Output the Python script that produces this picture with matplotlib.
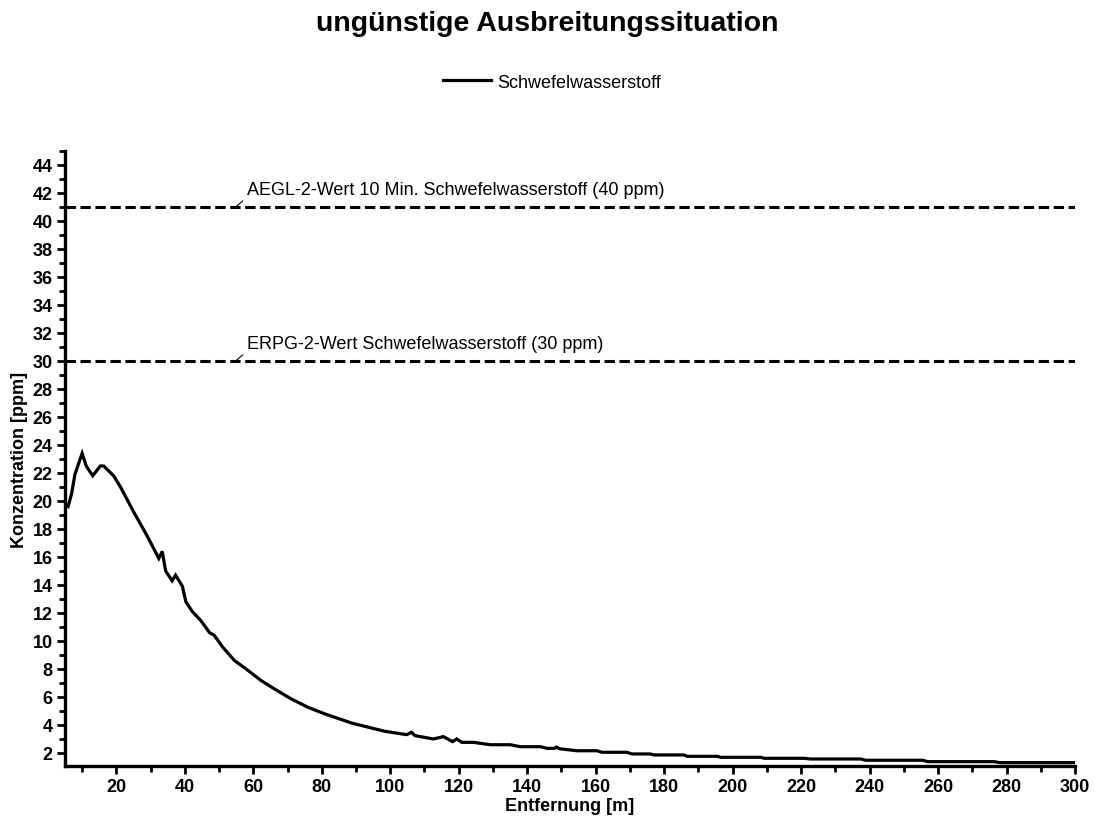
import matplotlib
matplotlib.use("Agg")
import matplotlib.pyplot as plt
from matplotlib.ticker import MultipleLocator

plt.rcParams['font.family'] = ['Liberation Sans', 'DejaVu Sans']

# Data
distance = [5.0, 5.9, 6.9, 7.9, 10.0, 11.2, 13.1, 15.3, 16.3, 19.2, 21.2, 25.1, 29.0,
            32.4, 33.4, 34.4, 36.3, 37.3, 39.3, 40.3, 42.2, 44.7, 47.2, 48.6, 51.1,
            54.5, 57.9, 62.3, 66.2, 71.1, 76.0, 80.9, 88.7, 93.6, 98.4, 103.4, 104.8,
            106.2, 107.2, 112.6, 115.5, 118.2, 119.4, 120.9, 124.3, 129.2, 135.0,
            138.0, 143.8, 145.8, 148.0, 148.5, 149.5, 154.5, 160.4, 161.8, 169.1, 170.6,
            176.0, 177.0, 185.8, 186.8, 195.5, 196.5, 208.2, 209.2, 220.9, 222.8,
            237.4, 238.9, 255.5, 257.0, 276.4, 278.0, 300.0]
concentration = [19.7, 19.6, 20.5, 21.9, 23.4, 22.5, 21.8, 22.5, 22.5, 21.8, 21.0, 19.2, 17.5,
                 15.9, 16.4, 15.0, 14.3, 14.7, 13.9, 12.8, 12.1, 11.45, 10.6, 10.4, 9.55,
                 8.6, 8.0, 7.17, 6.57, 5.86, 5.26, 4.79, 4.14, 3.84, 3.55, 3.36, 3.31,
                 3.48, 3.24, 3.0, 3.17, 2.81, 3.0, 2.76, 2.76, 2.59, 2.59,
                 2.45, 2.45, 2.33, 2.33, 2.42, 2.30, 2.16, 2.16, 2.05, 2.05, 1.93,
                 1.93, 1.86, 1.86, 1.76, 1.76, 1.69, 1.69, 1.62, 1.62, 1.57,
                 1.57, 1.48, 1.48, 1.38, 1.38, 1.31, 1.31]

series_name = "Schwefelwasserstoff"
threshold_values = [41, 30]
threshold_labels = ["AEGL-2-Wert 10 Min. Schwefelwasserstoff (40 ppm)",
                    "ERPG-2-Wert Schwefelwasserstoff (30 ppm)"]

fig = plt.figure(figsize=(10.95, 8.2), dpi=100)
ax = fig.add_axes([65/1095, 1 - 767/820, (1075-65)/1095, (767-152)/820])

line, = ax.plot(distance, concentration, color='black', lw=2.3, label=series_name,
                solid_joinstyle='miter')

for val, lab in zip(threshold_values, threshold_labels):
    ax.axhline(val, color='black', lw=2.2, ls=(0, (3.4, 1.5)))
    ax.plot([54.8, 56.9], [val, val + 0.43], color='black', lw=0.8)
    ax.text(58.3, val + 0.95, lab, fontsize=13, ha='left', va='baseline')

ax.set_xlim(5, 300)
ax.set_ylim(1.07, 45)
ax.xaxis.set_major_locator(MultipleLocator(20))
ax.xaxis.set_minor_locator(MultipleLocator(10))
ax.yaxis.set_major_locator(MultipleLocator(2))
ax.yaxis.set_minor_locator(MultipleLocator(1))
ax.set_xticks(range(20, 301, 20))
ax.set_yticks(range(2, 45, 2))

for s in ['top', 'right']:
    ax.spines[s].set_visible(False)
for s in ['left', 'bottom']:
    ax.spines[s].set_linewidth(2.4)

ax.tick_params(which='major', direction='out', length=6, width=2, labelsize=13, pad=3)
ax.tick_params(which='minor', direction='out', length=4.3, width=2)
for t in ax.get_xticklabels() + ax.get_yticklabels():
    t.set_fontweight('bold')

ax.set_xlabel("Entfernung [m]", fontsize=13, fontweight='bold', labelpad=1)
ax.set_ylabel("Konzentration [ppm]", fontsize=13, fontweight='bold', labelpad=3)

fig.text(0.5, 1 - 24/820, "ungünstige Ausbreitungssituation", fontsize=20.5,
         fontweight='bold', ha='center', va='center')

fig.legend(handles=[line], loc='center', bbox_to_anchor=(552/1095, 1 - 83/820),
           frameon=False, fontsize=13, handlelength=2.67, handletextpad=0.33)

fig.savefig("out.png", dpi=100)
